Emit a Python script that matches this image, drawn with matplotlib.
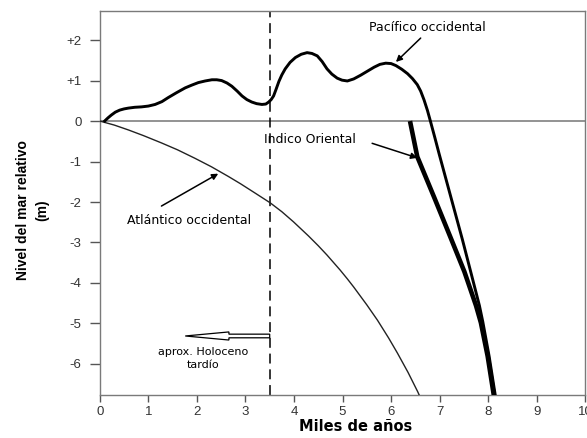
import matplotlib
matplotlib.use('Agg')
import matplotlib.pyplot as plt
from matplotlib.patches import FancyArrow

# Pacifico occidental
pac_x = [0.10, 0.17, 0.24, 0.32, 0.41, 0.50, 0.59, 0.72, 0.86, 1.00, 1.14, 1.28, 1.41, 1.58,
         1.76, 1.90, 2.03, 2.17, 2.31, 2.41, 2.51, 2.62, 2.72, 2.83, 2.93, 3.03, 3.13, 3.23,
         3.34, 3.42, 3.48, 3.53, 3.58, 3.63, 3.69, 3.75, 3.82, 3.92, 4.03, 4.15, 4.27, 4.37,
         4.48, 4.58, 4.68, 4.78, 4.89, 4.99, 5.10, 5.23, 5.37, 5.51, 5.65, 5.77, 5.89, 6.00,
         6.10, 6.22, 6.34, 6.44, 6.54, 6.61, 6.68, 6.75, 6.81, 6.90, 6.99, 7.11, 7.23, 7.35,
         7.47, 7.64, 7.82, 7.89, 8.02, 8.15]
pac_y = [0.0, 0.08, 0.15, 0.22, 0.27, 0.30, 0.32, 0.34, 0.35, 0.37, 0.41, 0.48, 0.58, 0.70,
         0.82, 0.89, 0.95, 0.99, 1.02, 1.02, 1.00, 0.94, 0.86, 0.74, 0.62, 0.53, 0.47, 0.43,
         0.41, 0.42, 0.47, 0.53, 0.62, 0.78, 0.98, 1.14, 1.29, 1.45, 1.57, 1.65, 1.69, 1.67,
         1.61, 1.47, 1.29, 1.16, 1.06, 1.01, 0.99, 1.04, 1.13, 1.23, 1.33, 1.40, 1.43, 1.42,
         1.37, 1.28, 1.17, 1.05, 0.90, 0.74, 0.52, 0.26, 0.0, -0.40, -0.81, -1.34, -1.87, -2.40,
         -2.93, -3.72, -4.56, -4.96, -5.81, -6.8]

# Indico Oriental
ind_x = [6.39, 6.54, 6.89, 7.23, 7.51, 7.75, 7.85, 7.99, 8.12]
ind_y = [0.0, -0.88, -1.89, -2.89, -3.72, -4.56, -4.98, -5.81, -6.8]

# Atlantico occidental
atl_x = [0.0, 0.3, 0.59, 0.9, 1.27, 1.6, 1.96, 2.3, 2.65, 2.9, 3.20, 3.51, 3.75, 3.99, 4.3,
         4.5, 4.68, 4.95, 5.1, 5.23, 5.5, 5.72, 5.95, 6.13, 6.35, 6.55, 6.58]
atl_y = [0.0, -0.10, -0.22, -0.36, -0.54, -0.71, -0.92, -1.13, -1.37, -1.55, -1.78, -2.02, -2.24,
         -2.49, -2.84, -3.08, -3.31, -3.68, -3.90, -4.10, -4.54, -4.92, -5.36, -5.73, -6.21,
         -6.69, -6.77]

xticks = [0, 1, 2, 3, 4, 5, 6, 7, 8, 9, 10]
yticks = [2, 1, 0, -1, -2, -3, -4, -5, -6]
ytick_labels = ['+2', '+1', '0', '-1', '-2', '-3', '-4', '-5', '-6']

fig = plt.figure(figsize=(5.87, 4.38), dpi=100)
ax = fig.add_axes([0.170, 0.098, 0.827, 0.877])

ax.axhline(0, color='#808080', lw=1.2, zorder=1)
ax.axvline(3.5, color='black', lw=1.1, dashes=(6.5, 3.8), zorder=2)

ax.plot(atl_x, atl_y, color='#222222', lw=1.0, zorder=3)
ax.plot(ind_x, ind_y, color='black', lw=3.3, solid_capstyle='butt', zorder=3)
ax.plot(pac_x, pac_y, color='black', lw=2.1, zorder=4)

ax.set_xlim(0, 10)
ax.set_ylim(-6.77, 2.72)
ax.set_xticks(xticks)
ax.set_yticks(yticks)
ax.set_yticklabels(ytick_labels)

for s in ax.spines.values():
    s.set_color('#7a7a7a')
    s.set_linewidth(1.0)

ax.tick_params(axis='y', direction='out', length=7, width=1, color='#555555',
               labelsize=9.5, labelcolor='#333333', pad=6)
ax.tick_params(axis='x', direction='out', length=5, width=1, color='#555555',
               labelsize=9.5, labelcolor='#333333', pad=3)
for lab in ax.get_xticklabels() + ax.get_yticklabels():
    lab.set_family('Liberation Sans')

# annotations
fs = 9
arrow_kw = dict(arrowstyle='-|>', color='black', lw=1.1, shrinkA=0, shrinkB=0,
                mutation_scale=9)
ax.annotate('', xy=(6.10, 1.46), xytext=(6.61, 2.05), arrowprops=arrow_kw)
ax.text(6.75, 2.32, 'Pacífico occidental', ha='center', va='center', fontsize=fs,
        family='DejaVu Sans')
ax.annotate('', xy=(6.54, -0.91), xytext=(5.61, -0.55), arrowprops=arrow_kw)
ax.text(4.32, -0.46, 'Indico Oriental', ha='center', va='center', fontsize=fs,
        family='DejaVu Sans')
ax.annotate('', xy=(2.44, -1.30), xytext=(1.27, -2.10), arrowprops=arrow_kw)
ax.text(1.83, -2.46, 'Atlántico occidental', ha='center', va='center', fontsize=fs,
        family='DejaVu Sans')

ax.add_patch(FancyArrow(3.5, -5.31, -1.74, 0, width=0.09, head_width=0.2, head_length=0.9,
                        length_includes_head=True, facecolor='white', edgecolor='black',
                        lw=0.9, zorder=5))
ax.text(2.13, -5.87, 'aprox. Holoceno\ntardío', ha='center', va='center', fontsize=8,
        family='DejaVu Sans', linespacing=1.3)

fig.text(0.606, 0.008, 'Miles de años', ha='center', va='bottom', fontsize=10.5,
         fontweight='bold', family='DejaVu Sans')
fig.text(0.055, 0.52, 'Nivel del mar relativo\n(m)', ha='center', va='center', rotation=90,
         fontsize=10, fontweight='bold', family=['Liberation Sans Narrow', 'Liberation Sans'],
         linespacing=1.5)

fig.savefig('out.png', dpi=100)
